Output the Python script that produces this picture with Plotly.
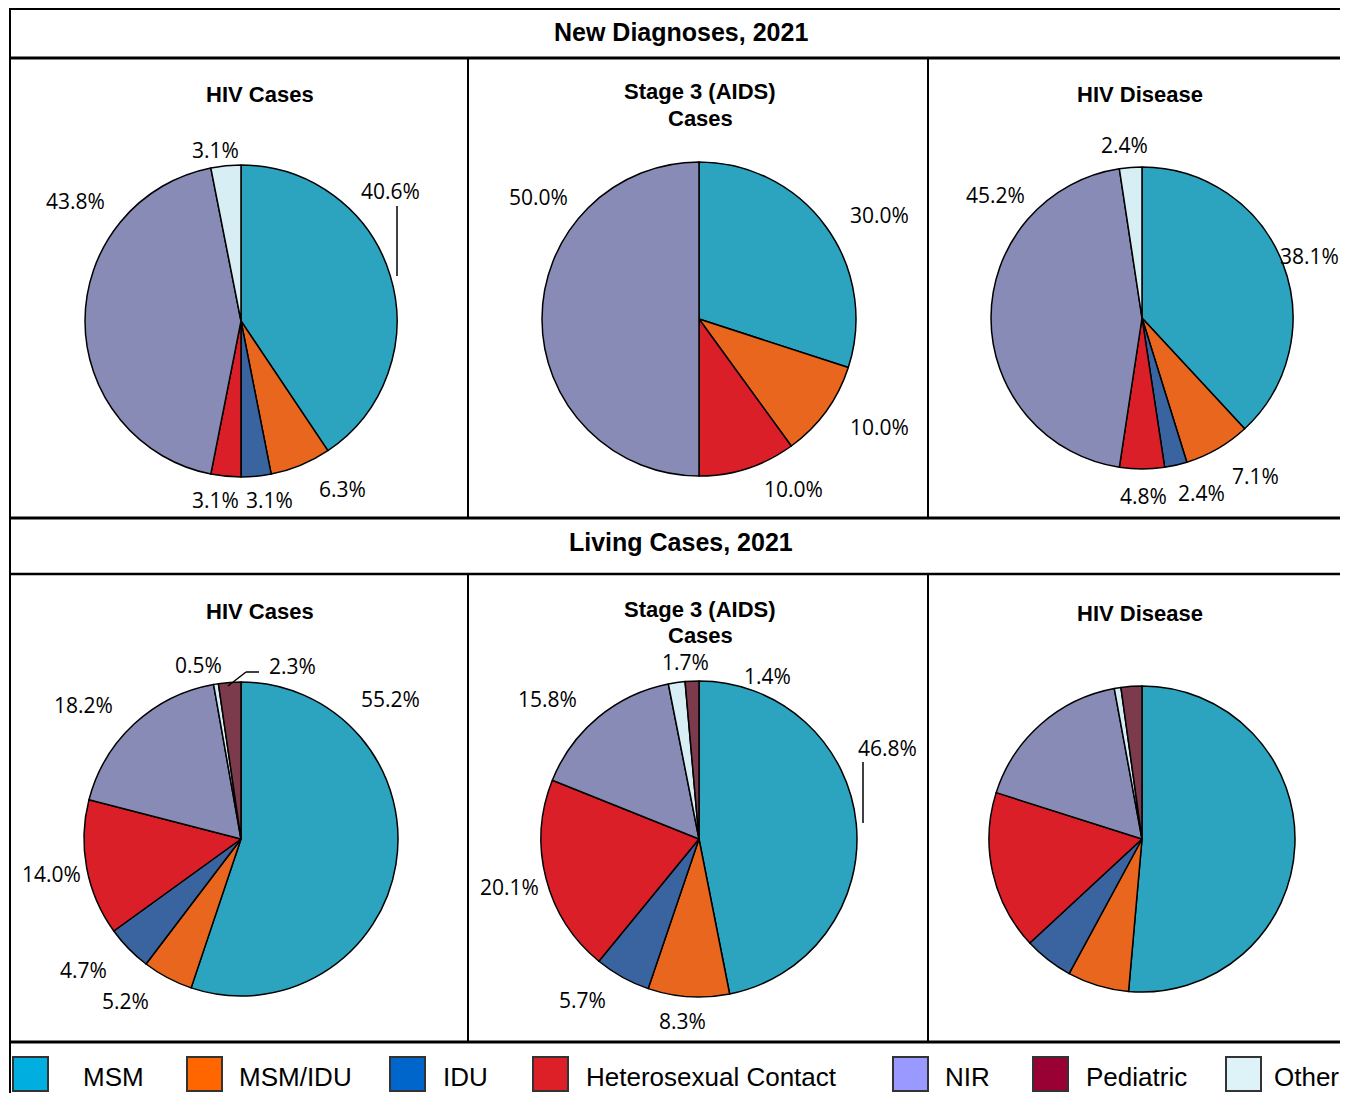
import plotly.graph_objects as go

# ---------------- data ----------------
categories = ["MSM", "MSM/IDU", "IDU", "Heterosexual Contact", "NIR", "Other", "Pediatric"]
new_hiv = [40.6, 6.3, 3.1, 3.1, 43.8, 3.1, 0.0]
new_aids = [30.0, 10.0, 0.0, 10.0, 50.0, 0.0, 0.0]
new_disease = [38.1, 7.1, 2.4, 4.8, 45.2, 2.4, 0.0]
living_hiv = [55.2, 5.2, 4.7, 14.0, 18.2, 0.5, 2.3]
living_aids = [46.8, 8.3, 5.7, 20.1, 15.8, 1.7, 1.4]
living_disease = [51.4, 6.5, 5.2, 16.8, 17.2, 0.7, 2.2]

legend_order = ["MSM", "MSM/IDU", "IDU", "Heterosexual Contact", "NIR", "Pediatric", "Other"]
panel_titles = ["HIV Cases", "Stage 3 (AIDS)<br>Cases", "HIV Disease"]
section_titles = ["New Diagnoses, 2021", "Living Cases, 2021"]

# ---------------- layout / styles ----------------
OFF = 8            # page body margin
FW, FH = 1340, 1085


def X(x):
    return (x - OFF) / FW


def Y(y):
    return 1 - (y - OFF) / FH


pie_colors = {
    "MSM": "#2CA3BF", "MSM/IDU": "#E8661E", "IDU": "#3A64A0",
    "Heterosexual Contact": "#DB1F29", "NIR": "#898BB7",
    "Other": "#D7EEF4", "Pediatric": "#7C3B4C",
}
legend_colors = {
    "MSM": "#00AEE0", "MSM/IDU": "#FF6600", "IDU": "#0066CC",
    "Heterosexual Contact": "#DD2028", "NIR": "#9999FF",
    "Pediatric": "#990033", "Other": "#DDF3F8",
}

# percent-label anchor positions (pixels) per pie, keyed by category
label_pos = [
    {"MSM": (390, 191), "MSM/IDU": (342, 489), "IDU": (269, 500), "Heterosexual Contact": (215, 500),
     "NIR": (75, 201), "Other": (215, 150)},
    {"MSM": (880, 215), "MSM/IDU": (880, 427), "Heterosexual Contact": (793, 489), "NIR": (538, 197)},
    {"MSM": (1309, 256), "MSM/IDU": (1255, 476), "IDU": (1201, 493), "Heterosexual Contact": (1143, 496),
     "NIR": (995, 195), "Other": (1124, 145)},
    {"MSM": (390, 699), "MSM/IDU": (126, 1001), "IDU": (83, 970), "Heterosexual Contact": (51, 874),
     "NIR": (83, 705), "Other": (198, 665), "Pediatric": (292, 666)},
    {"MSM": (887, 748), "MSM/IDU": (683, 1021), "IDU": (582, 1000), "Heterosexual Contact": (509, 887),
     "NIR": (547, 699), "Other": (686, 662), "Pediatric": (767, 676)},
    {},
]
leader_lines = [
    [(397, 206), (397, 276)],
    [(228, 686), (246, 672), (259, 672)],
    [(863, 762), (863, 823)],
]

fig = go.Figure()

pies = [
    (new_hiv, 241, 321, 156),
    (new_aids, 699, 319, 157),
    (new_disease, 1142, 318, 151),
    (living_hiv, 241, 839, 157),
    (living_aids, 699, 839, 158),
    (living_disease, 1142, 839, 153),
]

annotations = []
label_font = dict(family="Open Sans", size=21, color="black")

for (vals, cx, cy, r), lpos in zip(pies, label_pos):
    labs = [c for c, v in zip(categories, vals) if v > 0]
    vs = [v for v in vals if v > 0]
    fig.add_trace(go.Pie(
        labels=labs, values=vs, sort=False, direction="clockwise", rotation=0,
        marker=dict(colors=[pie_colors[c] for c in labs], line=dict(color="black", width=1.5)),
        textinfo="none",
        domain=dict(x=[X(cx - r), X(cx + r)], y=[Y(cy + r), Y(cy - r)]),
        showlegend=False, hoverinfo="label+value",
    ))
    for c, v in zip(labs, vs):
        if c in lpos:
            lx, ly = lpos[c]
            annotations.append(dict(text=f"{v:.1f}%", x=X(lx), y=Y(ly), xref="paper", yref="paper",
                                    xanchor="center", yanchor="middle", showarrow=False, font=label_font))

shapes = []
# horizontal rules
for y, w in [(9, 2), (58, 3), (518, 3), (574, 2.5), (1042, 3)]:
    shapes.append(dict(type="line", xref="paper", yref="paper", x0=X(10), x1=X(1348),
                       y0=Y(y), y1=Y(y), line=dict(color="black", width=w)))
# vertical rules
shapes.append(dict(type="line", xref="paper", yref="paper", x0=X(10), x1=X(10), y0=Y(8), y1=Y(1093),
                   line=dict(color="black", width=2)))
for x in (468, 928):
    for y0, y1 in [(58, 518), (574, 1042)]:
        shapes.append(dict(type="line", xref="paper", yref="paper", x0=X(x), x1=X(x), y0=Y(y0), y1=Y(y1),
                           line=dict(color="black", width=2)))
# leader lines
for pts in leader_lines:
    for (x0, y0), (x1, y1) in zip(pts[:-1], pts[1:]):
        shapes.append(dict(type="line", xref="paper", yref="paper", x0=X(x0), x1=X(x1), y0=Y(y0), y1=Y(y1),
                           line=dict(color="black", width=1.5)))

for t, y in zip(section_titles, (32, 542)):
    annotations.append(dict(text=f"<b>{t}</b>", x=X(681), y=Y(y), xref="paper", yref="paper",
                            xanchor="center", yanchor="middle", showarrow=False,
                            font=dict(family="Liberation Sans", size=25, color="black")))
for row_dy in (0, 517):
    for t, x in zip(panel_titles, (260, 700, 1140)):
        lines = t.split("<br>")
        if len(lines) == 1:
            ys = [94 + row_dy + (2 if x == 1140 and row_dy else 0)]
        else:
            ys = [92 + row_dy, 118 + row_dy]
        for ln, yy in zip(lines, ys):
            annotations.append(dict(text=f"<b>{ln}</b>", x=X(x), y=Y(yy), xref="paper", yref="paper",
                                    xanchor="center", yanchor="middle", showarrow=False,
                                    font=dict(family="Liberation Sans", size=22, color="black")))

# legend row
sw_x = [13, 187, 390, 533, 893, 1033, 1226]
tx_x = [81, 237, 441, 584, 943, 1084, 1272]
for c, sx, tx in zip(legend_order, sw_x, tx_x):
    shapes.append(dict(type="rect", xref="paper", yref="paper", x0=X(sx), x1=X(sx + 35),
                       y0=Y(1091), y1=Y(1057), fillcolor=legend_colors[c],
                       line=dict(color="#333333", width=2)))
    annotations.append(dict(text=c, x=X(tx), y=Y(1077), xref="paper", yref="paper",
                            xanchor="left", yanchor="middle", showarrow=False,
                            font=dict(family="Liberation Sans", size=26, color="black")))

fig.update_layout(
    width=FW, height=FH, margin=dict(l=0, r=0, t=0, b=0),
    paper_bgcolor="white", plot_bgcolor="white",
    shapes=shapes, annotations=annotations,
)

fig.write_html("out.html")
